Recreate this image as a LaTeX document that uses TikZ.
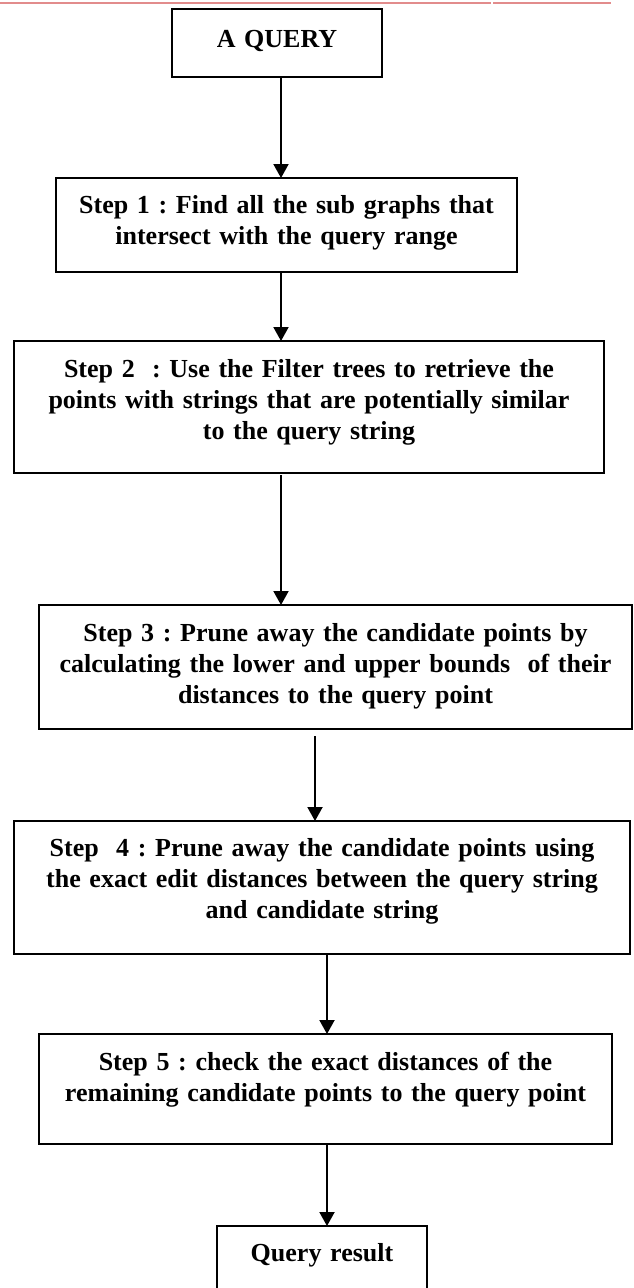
\documentclass[tikz,border=0pt]{standalone}
\usepackage{fontspec}
\setmainfont{Liberation Serif}
\usetikzlibrary{arrows.meta,calc}
\definecolor{topred}{RGB}{226,140,140}
\frenchspacing
\begin{document}
\begin{tikzpicture}[x=1pt,y=-1pt,
  box/.style={draw=black, line width=2pt, inner sep=0pt, outer sep=0pt},
  txt/.style={font=\fontsize{26pt}{31pt}\selectfont\bfseries\frenchspacing, text width=620pt,
    align=center, anchor=base, inner sep=0pt},
  arr/.style={line width=2pt, -{Triangle[width=15pt,length=14pt]}},
  redline/.style={draw=topred, line width=2pt}]
\useasboundingbox (0,0) rectangle (633,1288);
\clip (0,0) rectangle (633,1288);
\fill[white] (0,0) rectangle (633,1288);
% faint rule at the top
\draw[redline] (0,2.5) -- (491,2.5);
\draw[redline] (493,2.5) -- (611,2.5);
% boxes
\node[box, minimum width=210pt, minimum height=68pt]  (q)  at (277,43) {};
\node[box, minimum width=461pt, minimum height=94pt]  (s1) at (286.5,225) {};
\node[box, minimum width=590pt, minimum height=132pt] (s2) at (309,407) {};
\node[box, minimum width=593pt, minimum height=124pt] (s3) at (335.5,667) {};
\node[box, minimum width=616pt, minimum height=133pt] (s4) at (322,887.5) {};
\node[box, minimum width=573pt, minimum height=110pt] (s5) at (325.5,1089) {};
\node[box, minimum width=210pt, minimum height=84pt]  (r)  at (322,1268) {};
% texts
\node[txt] (tq)  at (277,47) {A QUERY};
\node[txt] (t1)  at (286.5,213) {Step 1 : Find all the sub graphs that\\intersect with the query range};
\node[txt] (t2)  at (309,377) {Step 2~ : Use the Filter trees to retrieve the\\points with strings that are potentially similar\\to the query string};
\node[txt] (t3)  at (335.5,641) {Step 3 : Prune away the candidate points by\\calculating the lower and upper bounds~ of their\\distances to the query point};
\node[txt] (t4)  at (322,856) {Step~ 4 : Prune away the candidate points using\\the exact edit distances between the query string\\and candidate string};
\node[txt] (t5)  at (325.5,1070) {Step 5 : check the exact distances of the\\remaining candidate points to the query point};
\node[txt] (tr)  at (322,1261) {Query result};
% arrow columns
\coordinate (cA) at (281,0);
\coordinate (cB) at (315,0);
\coordinate (cC) at (327,0);
\draw[arr] (q.south -| cA) -- (s1.north -| cA);
\draw[arr] (s1.south -| cA) -- (s2.north -| cA);
\draw[arr] ($(s2.south -| cA)+(0,2)$) -- (s3.north -| cA);
\draw[arr] ($(s3.south -| cB)+(0,7)$) -- (s4.north -| cB);
\draw[arr] (s4.south -| cC) -- (s5.north -| cC);
\draw[arr] (s5.south -| cC) -- (r.north -| cC);
\end{tikzpicture}
\end{document}
